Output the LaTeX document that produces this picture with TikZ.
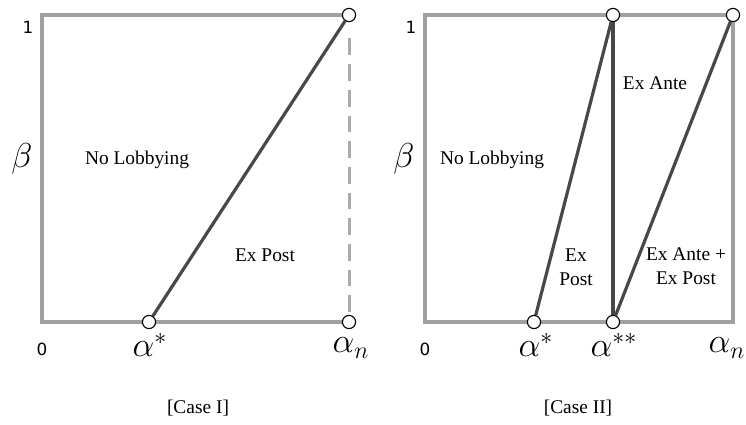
\documentclass[tikz,border=0pt]{standalone}
\usepackage{fontspec}
\setmainfont{Liberation Serif}
\newfontfamily\tickfont{DejaVu Sans}
\usetikzlibrary{backgrounds}
\definecolor{framegrey}{HTML}{A0A0A0}
\definecolor{dashgrey}{HTML}{ABABAB}
\definecolor{bounddark}{HTML}{484848}
\tikzset{
  dot/.style={circle, draw=black, fill=white, line width=0.55pt, inner sep=0pt, minimum size=6.6pt},
  frameline/.style={framegrey, line width=1.6pt, line join=miter},
  frameDash/.style={dashgrey, line width=1.5pt, dash pattern=on 8.35pt off 4.5pt, shorten <=8.15pt},
  boundary/.style={bounddark, line width=1.6pt},
  region/.style={font=\fontsize{9.7}{12}\selectfont, align=center},
  axlabel/.style={font=\fontsize{17}{18}\selectfont},
  ticklbl/.style={font=\tickfont\fontsize{8.4}{9}\selectfont},
  caselbl/.style={font=\fontsize{9.7}{12}\selectfont},
}

\begin{document}
\begin{tikzpicture}[x=0.5pt, y=-0.5pt]
\useasboundingbox (0,0) rectangle (746,424);

% Case I
\coordinate (Aorig) at (42,322);
\coordinate (Atop) at (42,15);
\node[dot] (Astar) at (149,322) {};
\node[dot] (Aone) at (349,15) {};
\node[dot] (An) at (349,322) {};

\node[ticklbl] (Aonelbl) at (28,27) {1};
\node[ticklbl] (Azerolbl) at (42,349) {0};
\node[axlabel] (Abeta) at (22,159) {$\beta$};
\node[axlabel] (Astarlbl) at (150,345) {$\alpha^*$};
\node[axlabel] (Anlbl) at (351,348) {$\alpha_n$};
\node[region] (Anolob) at (137,160) {No Lobbying};
\node[region] (Apost) at (265,255) {Ex Post};
\node[caselbl] (Acase) at (198,408) {[Case I]};

\begin{scope}[on background layer]
\draw[frameline] (An.center) -- (Aorig) -- (Atop) -- (Aone.center);
\draw[frameDash] (Aone) -- (An);
\draw[boundary] (Astar) -- (Aone);
\end{scope}

% Case II
\coordinate (Borig) at (425,322);
\coordinate (Btop) at (425,15);
\coordinate (Bcorner) at (733,322);
\node[dot] (Bstar) at (534,322) {};
\node[dot] (Bsstar) at (613,322) {};
\node[dot] (Bmid) at (613,15) {};
\node[dot] (Bone) at (733,15) {};

\node[ticklbl] (Bonelbl) at (411,27) {1};
\node[ticklbl] (Bzerolbl) at (425,349) {0};
\node[axlabel] (Bbeta) at (404,159) {$\beta$};
\node[axlabel] (Bstarlbl) at (536,345) {$\alpha^*$};
\node[axlabel] (Bsstarlbl) at (614,345) {$\alpha^{**}$};
\node[axlabel] (Bnlbl) at (727,348) {$\alpha_n$};
\node[region] (Bnolob) at (492,160) {No Lobbying};
\node[region] (Bante) at (655,83) {Ex Ante};
\node[region] (Bpost) at (576,267) {Ex\\Post};
\node[region] (Bboth) at (686,266) {Ex Ante +\\Ex Post};
\node[caselbl] (Bcase) at (578,408) {[Case II]};

\begin{scope}[on background layer]
\draw[frameline] (Borig) rectangle (Bone.center);
\draw[boundary] (Bstar) -- (Bmid);
\draw[boundary] (Bsstar) -- (Bmid);
\draw[boundary] (Bsstar) -- (Bone);
\end{scope}
\end{tikzpicture}
\end{document}
